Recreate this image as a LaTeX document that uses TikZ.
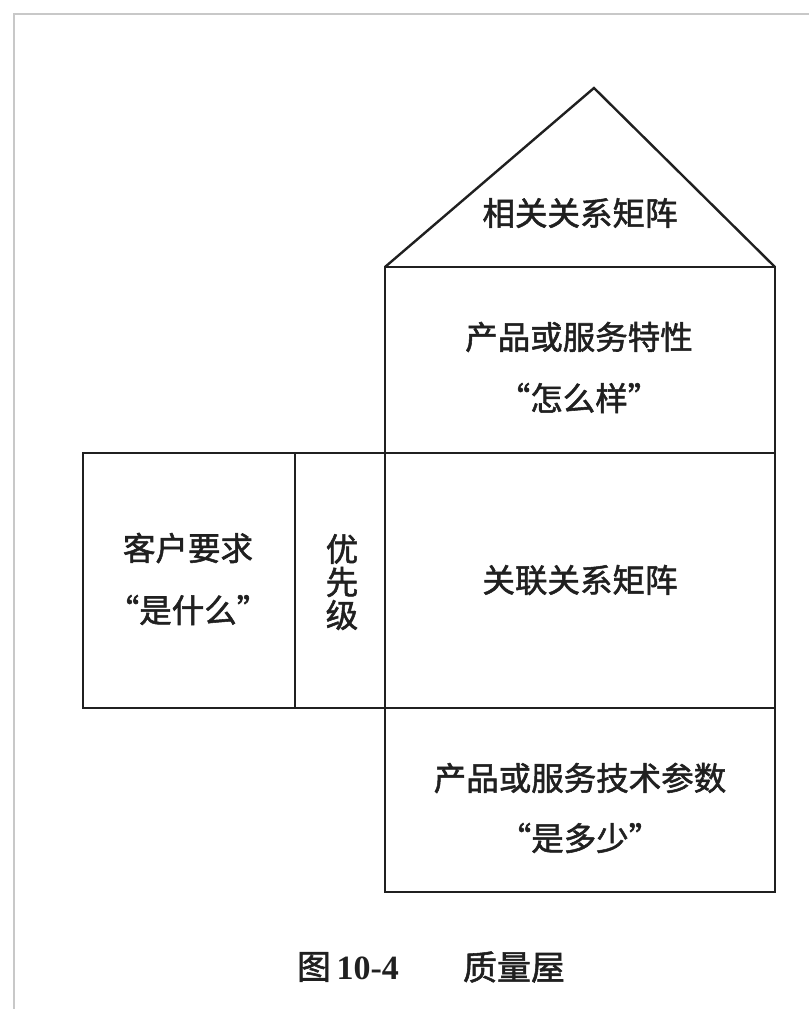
\documentclass[tikz,border=0pt]{standalone}
\usepackage{fontspec}
\newfontfamily\cjk[FakeBold=1.6]{Noto Sans CJK SC}
\setmainfont{Liberation Serif}
\definecolor{framegray}{HTML}{C8C8C8}
\definecolor{inkc}{HTML}{202020}
\begin{document}
\begin{tikzpicture}[x=1pt,y=-1pt,
  box/.style={draw=inkc,line width=2.4pt},
  lbl/.style={font=\cjk\fontsize{32.5}{36}\selectfont,text=inkc,inner sep=0pt,anchor=center},
  captext/.style={font=\cjk\fontsize{34}{38}\selectfont,text=inkc,inner sep=0pt,anchor=center}]
\useasboundingbox (0,0) rectangle (809,1009);
\fill[white] (0,0) rectangle (809,1009);
\draw[framegray,line width=2pt] (14,1009) -- (14,14) -- (809,14);
% shapes
\coordinate (apex) at (594,88);
\coordinate (bl) at (385,267);
\coordinate (br) at (775,267);
\draw[box] (bl) -- (apex) -- (br);
\draw[box] (385,267) rectangle (775,453);
\draw[box] (385,453) rectangle (775,708);
\draw[box] (385,708) rectangle (775,892);
\draw[box] (83,453) rectangle (385,708);
\draw[box] (295,453) -- (295,708);
% labels
\node[lbl] (roof) at (580,213) {相关关系矩阵};
\node[lbl] (how1) at (579,337) {产品或服务特性};
\node[lbl] (how2) at (579,398) {“怎么样”};
\node[lbl] (what1) at (188,548) {客户要求};
\node[lbl] (what2) at (188,610) {“是什么”};
\node[lbl] (pr1) at (342,549) {优};
\node[lbl] (pr2) at (342,582) {先};
\node[lbl] (pr3) at (342,615) {级};
\node[lbl] (rel) at (580,580) {关联关系矩阵};
\node[lbl] (hm1) at (580,778) {产品或服务技术参数};
\node[lbl] (hm2) at (580,838) {“是多少”};
\node[captext] (capA) at (348,967) {图\,{\rmfamily\bfseries 10-4}};
\node[captext] (capB) at (514,967) {质量屋};
\end{tikzpicture}
\end{document}
